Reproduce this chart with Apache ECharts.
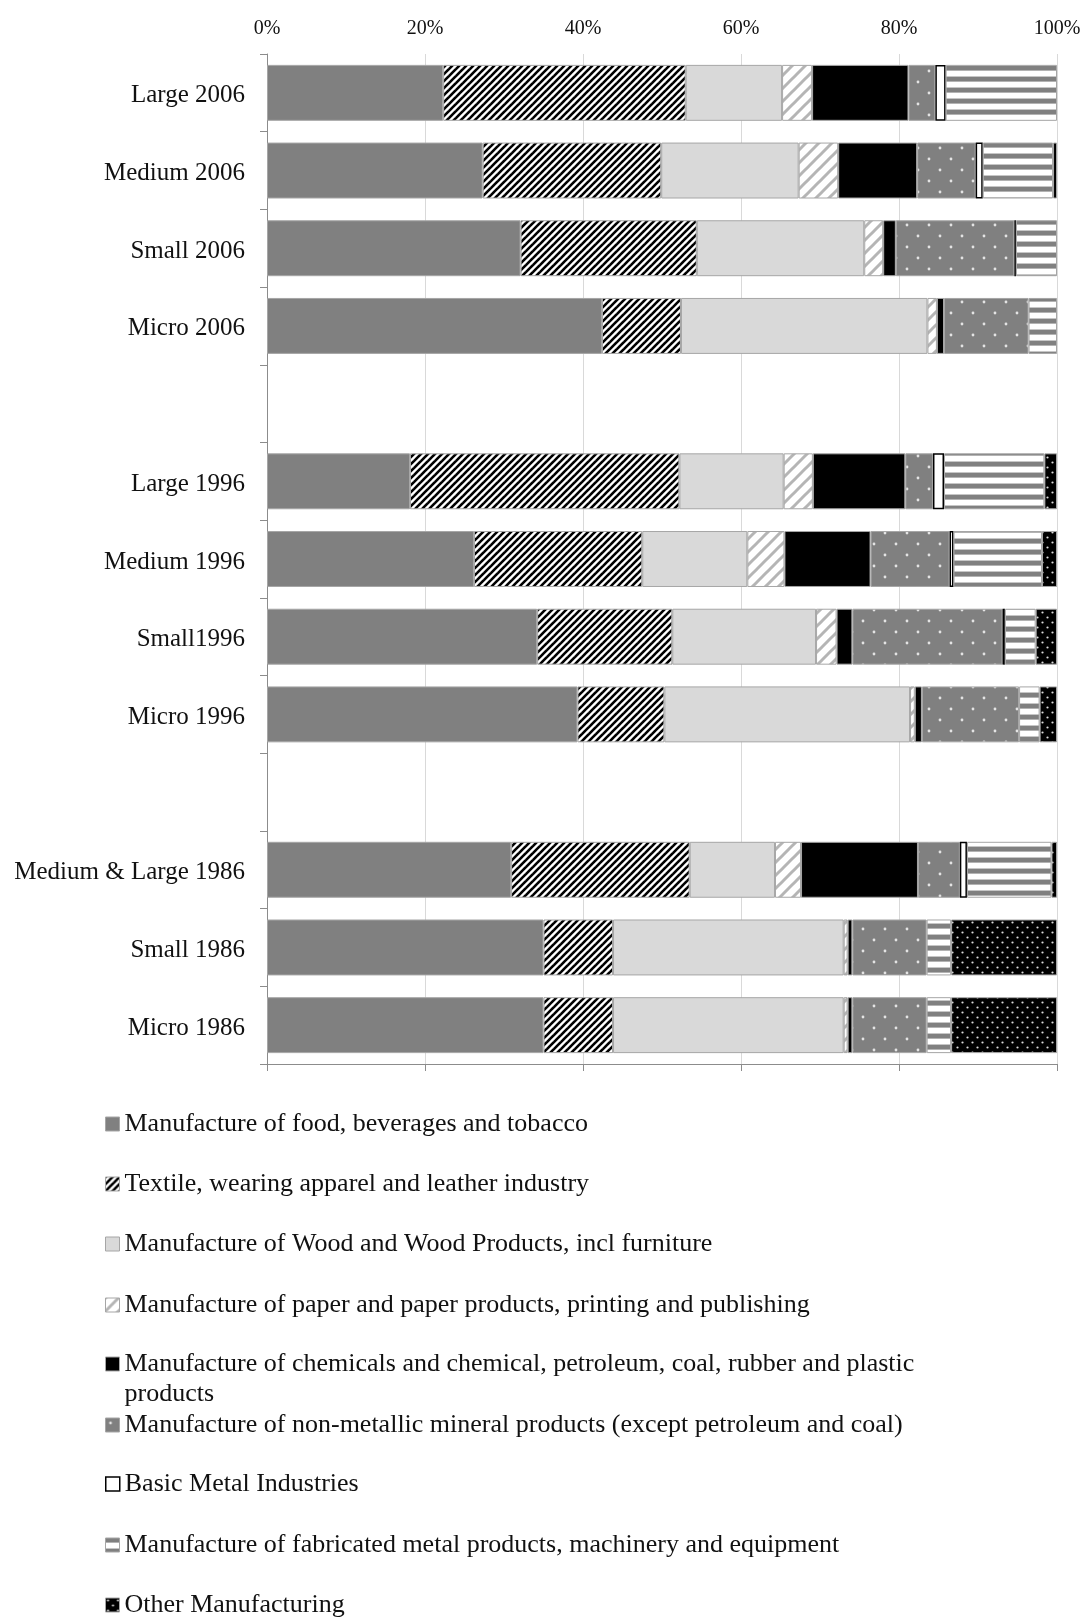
<!DOCTYPE html>
<html>
<head>
<meta charset="utf-8">
<script src="https://cdn.jsdelivr.net/npm/echarts@6/dist/echarts.min.js"></script>
<style>
  html, body { margin: 0; padding: 0; background: #ffffff; }
  #chart { width: 1086px; height: 1618px; }
</style>
</head>
<body>
<div id="chart"></div>
<script>
// Firm size groups by survey year (blank rows separate the years)
const categories = [
  'Large 2006', 'Medium 2006', 'Small 2006', 'Micro 2006', ' ',
  'Large 1996', 'Medium 1996', 'Small1996', 'Micro 1996', '  ',
  'Medium & Large 1986', 'Small 1986', 'Micro 1986'
];

const sectorNames = [
  'Manufacture of food, beverages and tobacco',
  'Textile, wearing apparel and leather industry',
  'Manufacture of Wood and Wood Products, incl furniture',
  'Manufacture of paper and paper products, printing and publishing',
  'Manufacture of chemicals and chemical, petroleum, coal, rubber and plastic products',
  'Manufacture of non-metallic mineral products (except petroleum and coal)',
  'Basic Metal Industries',
  'Manufacture of fabricated metal products, machinery and equipment',
  'Other Manufacturing'
];

// Share of each sector in every group (%), one value per category row
const food    = [22.3, 27.3, 32.1, 42.4, null, 18.1, 26.2, 34.2, 39.3, null, 30.9, 35.0, 35.0];
const textile = [30.7, 22.6, 22.3, 10.0, null, 34.1, 21.3, 17.1, 11.0, null, 22.6,  8.8,  8.8];
const wood    = [12.2, 17.4, 21.2, 31.2, null, 13.2, 13.3, 18.2, 31.1, null, 10.8, 29.2, 29.2];
const paper   = [ 3.8,  5.0,  2.4,  1.2, null,  3.7,  4.7,  2.6,  0.6, null,  3.3,  0.5,  0.5];
const chem    = [12.2, 10.0,  1.6,  0.9, null, 11.7, 10.9,  2.0,  0.9, null, 14.8,  0.6,  0.6];
const nonMet  = [ 3.4,  7.4, 15.0, 10.7, null,  3.5, 10.0, 19.0, 12.3, null,  5.3,  9.4,  9.4];
const basic   = [ 1.3,  0.9,  0.2, null, null,  1.4,  0.5,  0.3, null, null,  0.9, null, null];
const fab     = [14.1,  8.9,  5.2,  3.6, null, 12.7, 11.2,  3.9,  2.6, null, 10.7,  3.1,  3.1];
const other   = [null,  0.5, null, null, null,  1.6,  1.9,  2.7,  2.2, null,  0.7, 13.4, 13.4];

const sectorValues = [food, textile, wood, paper, chem, nonMet, basic, fab, other];

// Axis tick values along the share axis
const shareTicks = [0, 20, 40, 60, 80, 100];

const FONT = '"Liberation Serif", "Times New Roman", serif';
const TEXT = '#111111';
const AXIS = '#8c8c8c';

// ---- fill patterns drawn on small canvases ----
function tile(w, h, draw) {
  const c = document.createElement('canvas');
  c.width = w; c.height = h;
  draw(c.getContext('2d'), w, h);
  return c;
}
function diagonal(size, bg, fg, width) {
  return tile(size, size, (g, s) => {
    g.fillStyle = bg; g.fillRect(0, 0, s, s);
    g.strokeStyle = fg; g.lineWidth = width;
    for (const k of [-1, 0, 1]) {
      g.beginPath();
      g.moveTo(k * s - 2, s + 2);
      g.lineTo(k * s + s + 2, -2);
      g.stroke();
    }
  });
}
function dots(w, h, bg, fg, r, pts) {
  return tile(w, h, (g) => {
    g.fillStyle = bg; g.fillRect(0, 0, w, h);
    g.fillStyle = fg;
    pts.forEach(([x, y]) => { g.beginPath(); g.arc(x, y, r, 0, Math.PI * 2); g.fill(); });
  });
}
const hStripes = tile(4, 11, (g) => {
  g.fillStyle = '#ffffff'; g.fillRect(0, 0, 4, 11);
  g.fillStyle = '#808080'; g.fillRect(0, 0, 4, 4);
  g.fillStyle = '#b3b3b3'; g.fillRect(0, 4, 4, 1);
  g.fillStyle = '#c6c6c6'; g.fillRect(0, 10, 4, 1);
});
const pat = (canvas) => ({ image: canvas, repeat: 'repeat' });

const fills = [
  '#808080',
  pat(diagonal(7, '#ffffff', '#000000', 2.6)),
  '#d9d9d9',
  pat(diagonal(13, '#ffffff', '#b5b5b5', 3)),
  '#000000',
  pat(dots(22, 22, '#808080', '#e4e4e4', 1.4, [[5, 5], [16, 16]])),
  '#ffffff',
  pat(hStripes),
  pat(dots(10, 10, '#000000', '#dcdcdc', 1.1, [[2.5, 2.5], [7.5, 7.5]]))
];

const series = sectorNames.map((name, i) => ({
  name,
  type: 'bar',
  stack: 'share',
  xAxisIndex: 0,
  barCategoryGap: '28%',
  data: sectorValues[i],
  silent: true,
  emphasis: { disabled: true },
  itemStyle: {
    color: fills[i],
    borderColor: i === 6 ? '#000000' : '#a6a6a6',
    borderWidth: i === 6 ? 1.5 : 1
  }
}));

// One legend block per sector so every entry sits on its own row;
// the long chemicals entry wraps, with its swatch beside the first line.
const legendCenters = [1124, 1184, 1244, 1305, 1364, 1425, 1484, 1545, 1605];
const legends = sectorNames.map((name, i) => {
  const twoLine = i === 4;
  return {
    data: [name],
    orient: 'vertical',
    left: 105,
    top: twoLine ? legendCenters[i] - 45 : legendCenters[i] - 15,
    padding: 0,
    itemWidth: 14,
    itemHeight: 14,
    icon: 'rect',
    selectedMode: false,
    itemStyle: { borderWidth: i === 6 ? 1.5 : 1 },
    formatter: twoLine ? (n) => '\n' + n.replace(' plastic products', ' plastic\nproducts') : '{name}',
    textStyle: { fontFamily: FONT, fontSize: 26, color: TEXT, lineHeight: 30 }
  };
});

const chart = echarts.init(document.getElementById('chart'), null, { renderer: 'canvas' });
chart.setOption({
  animation: false,
  backgroundColor: '#ffffff',
  grid: { left: 267, right: 29, top: 54, bottom: 554, containLabel: false },
  legend: legends,
  xAxis: [
    {
      type: 'value', position: 'bottom',
      min: shareTicks[0], max: shareTicks[shareTicks.length - 1], interval: shareTicks[1] - shareTicks[0],
      axisLine: { show: true, lineStyle: { color: AXIS, width: 1 } },
      axisTick: { show: true, length: 7, lineStyle: { color: AXIS } },
      axisLabel: { show: false },
      splitLine: { show: true, lineStyle: { color: '#d9d9d9', width: 1 } }
    },
    {
      type: 'value', position: 'top',
      min: shareTicks[0], max: shareTicks[shareTicks.length - 1], interval: shareTicks[1] - shareTicks[0],
      axisLine: { show: false },
      axisTick: { show: false },
      splitLine: { show: false },
      axisLabel: { formatter: '{value}%', margin: 15, fontFamily: FONT, fontSize: 20, color: TEXT }
    }
  ],
  yAxis: {
    type: 'category',
    data: categories,
    inverse: true,
    axisLine: { show: true, lineStyle: { color: AXIS, width: 1 } },
    axisTick: { show: true, length: 7, interval: 0, lineStyle: { color: AXIS } },
    axisLabel: {
      interval: 0, margin: 22, fontFamily: FONT, fontSize: 25, color: TEXT,
      formatter: (v) => '{c|' + v + '}',
      rich: { c: { fontFamily: FONT, fontSize: 25, color: TEXT, padding: [6, 0, 0, 0] } }
    },
    splitLine: { show: false }
  },
  series
});
</script>
</body>
</html>
